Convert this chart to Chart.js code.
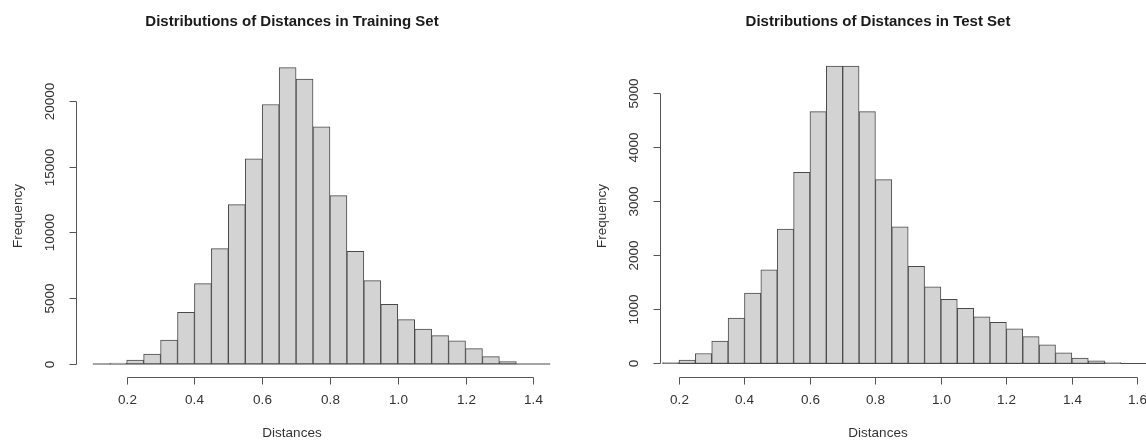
<!DOCTYPE html>
<html>
<head>
<meta charset="utf-8">
<script src="https://cdn.jsdelivr.net/npm/chart.js@4.4.1/dist/chart.umd.min.js"></script>
<style>
  html, body { margin: 0; padding: 0; background: #ffffff; }
  #wrap { display: flex; width: 1146px; height: 443px; overflow: hidden; }
  canvas { display: block; }
</style>
</head>
<body>
<div id="wrap">
  <canvas id="trainChart" width="573" height="443"></canvas>
  <canvas id="testChart" width="573" height="443"></canvas>
</div>
<script>
// Histogram bin edges (width 0.05) and counts per bin
const trainBreaks = [0.10, 0.15, 0.20, 0.25, 0.30, 0.35, 0.40, 0.45, 0.50, 0.55,
                     0.60, 0.65, 0.70, 0.75, 0.80, 0.85, 0.90, 0.95, 1.00, 1.05,
                     1.10, 1.15, 1.20, 1.25, 1.30, 1.35, 1.40, 1.45];
const trainCounts = [0, 70, 300, 760, 1820, 3920, 6110, 8760, 12110, 15590,
                     19710, 22510, 21650, 18020, 12790, 8550, 6330, 4530, 3370, 2660,
                     2160, 1760, 1170, 560, 190, 0, 0];

const testBreaks = [0.15, 0.20, 0.25, 0.30, 0.35, 0.40, 0.45, 0.50, 0.55, 0.60,
                    0.65, 0.70, 0.75, 0.80, 0.85, 0.90, 0.95, 1.00, 1.05, 1.10,
                    1.15, 1.20, 1.25, 1.30, 1.35, 1.40, 1.45, 1.50, 1.55, 1.60, 1.65];
const testCounts = [15, 65, 185, 415, 840, 1300, 1730, 2480, 3530, 4650,
                    5490, 5490, 4650, 3395, 2522, 1795, 1414, 1183, 1020, 860,
                    760, 640, 496, 345, 197, 99, 49, 15, 0, 0];

// Axis ticks
const trainXTicks = [0.2, 0.4, 0.6, 0.8, 1.0, 1.2, 1.4];
const testXTicks  = [0.2, 0.4, 0.6, 0.8, 1.0, 1.2, 1.4, 1.6];
const trainYTicks = [0, 5000, 10000, 15000, 20000];
const testYTicks  = [0, 1000, 2000, 3000, 4000, 5000];

const titleTrain = 'Distributions of Distances in Training Set';
const titleTest  = 'Distributions of Distances in Test Set';
const xAxisTitle = 'Distances';
const yAxisTitle = 'Frequency';

const FONT = '"Liberation Sans", Arial, Helvetica, sans-serif';
const BAR_FILL = '#d3d3d3';
const BAR_EDGE = '#4a4a4a';
const AXIS_COLOR = '#555555';
const TEXT_COLOR = '#333333';

// Bars centred on each bin, taken from the bin edges
function binPoints(breaks, counts) {
  return counts.map((c, i) => ({ x: (breaks[i] + breaks[i + 1]) / 2, y: c }));
}

// Axes drawn in the classic base-graphics way: the axis line runs only
// between the first and last tick, ticks point outward, y labels are rotated.
const baseAxes = {
  id: 'baseAxes',
  afterDraw(chart, args, o) {
    const { ctx, chartArea: a, scales: { x, y } } = chart;
    ctx.save();
    ctx.strokeStyle = AXIS_COLOR;
    ctx.lineWidth = 1;

    // x axis
    const yb = Math.round(a.bottom) + 0.5;
    const xs = o.xTicks.map(v => Math.round(x.getPixelForValue(v)) + 0.5);
    ctx.beginPath();
    ctx.moveTo(xs[0], yb);
    ctx.lineTo(xs[xs.length - 1], yb);
    xs.forEach(px => { ctx.moveTo(px, yb); ctx.lineTo(px, yb + o.tickLen); });
    ctx.stroke();

    // y axis
    const xl = Math.round(a.left) + 0.5;
    const ys = o.yTicks.map(v => Math.round(y.getPixelForValue(v)) + 0.5);
    ctx.beginPath();
    ctx.moveTo(xl, ys[0]);
    ctx.lineTo(xl, ys[ys.length - 1]);
    ys.forEach(py => { ctx.moveTo(xl, py); ctx.lineTo(xl - o.tickLen, py); });
    ctx.stroke();

    // tick labels
    ctx.fillStyle = TEXT_COLOR;
    ctx.font = `${o.tickSize}px ${FONT}`;
    ctx.textAlign = 'center';
    ctx.textBaseline = 'middle';
    o.xTicks.forEach((v, i) => ctx.fillText(v.toFixed(1), xs[i], a.bottom + o.xLabelGap));
    o.yTicks.forEach((v, i) => {
      ctx.save();
      ctx.translate(a.left - o.yLabelGap, ys[i]);
      ctx.rotate(-Math.PI / 2);
      ctx.fillText(String(v), 0, 0);
      ctx.restore();
    });

    // axis titles
    ctx.fillText(o.xTitle, o.centerX, a.bottom + o.xTitleGap);
    ctx.save();
    ctx.translate(a.left - o.yTitleGap, o.yTitleY);
    ctx.rotate(-Math.PI / 2);
    ctx.fillText(o.yTitle, 0, 0);
    ctx.restore();

    // main title
    ctx.fillStyle = '#1a1a1a';
    ctx.font = `bold ${o.titleSize}px ${FONT}`;
    ctx.fillText(o.title, o.centerX, o.titleY);
    ctx.restore();
  }
};

function makeHistogram(canvasId, breaks, counts, cfg) {
  return new Chart(document.getElementById(canvasId), {
    type: 'bar',
    data: {
      datasets: [
        {
          data: binPoints(breaks, counts),
          backgroundColor: BAR_FILL,
          borderColor: BAR_EDGE,
          borderWidth: 1,
          borderSkipped: false,
          barPercentage: 1,
          categoryPercentage: 1
        },
        {
          // zero line under the full run of bins
          type: 'line',
          data: [{ x: breaks[0], y: 0 }, { x: breaks[breaks.length - 1], y: 0 }],
          borderColor: BAR_EDGE,
          borderWidth: 1,
          pointRadius: 0,
          fill: false
        }
      ]
    },
    options: {
      responsive: false,
      animation: false,
      devicePixelRatio: 1,
      layout: { padding: cfg.padding },
      plugins: {
        legend: { display: false },
        title: { display: false },
        tooltip: { enabled: false },
        baseAxes: {
          xTicks: cfg.xTicks, yTicks: cfg.yTicks,
          tickLen: 7, tickSize: 13.5, titleSize: 15,
          xLabelGap: 23, yLabelGap: 26, xTitleGap: 56, yTitleGap: 58,
          yTitleY: 216, titleY: 22, centerX: cfg.centerX,
          title: cfg.title, xTitle: xAxisTitle, yTitle: yAxisTitle
        }
      },
      scales: {
        x: {
          type: 'linear', display: false, offset: false,
          min: cfg.xMin, max: cfg.xMax,
          afterBuildTicks: s => { s.ticks = cfg.xTicks.map(v => ({ value: v })); }
        },
        y: {
          type: 'linear', display: false, beginAtZero: false,
          min: cfg.yMin, max: cfg.yMax,
          afterBuildTicks: s => { s.ticks = cfg.yTicks.map(v => ({ value: v })); }
        }
      }
    },
    plugins: [baseAxes]
  });
}

makeHistogram('trainChart', trainBreaks, trainCounts, {
  title: titleTrain,
  xTicks: trainXTicks, yTicks: trainYTicks,
  xMin: 0.0504, xMax: 1.504, yMin: -1010, yMax: 23410,
  padding: { left: 76, right: 4.5, top: 55.8, bottom: 65.7 },
  centerX: 292
});

makeHistogram('testChart', testBreaks, testCounts, {
  title: titleTest,
  xTicks: testXTicks, yTicks: testYTicks,
  xMin: 0.1429, xMax: 1.6264, yMin: -255, yMax: 5713,
  padding: { left: 87.3, right: 0, top: 54, bottom: 65.7 },
  centerX: 305
});
</script>
</body>
</html>
